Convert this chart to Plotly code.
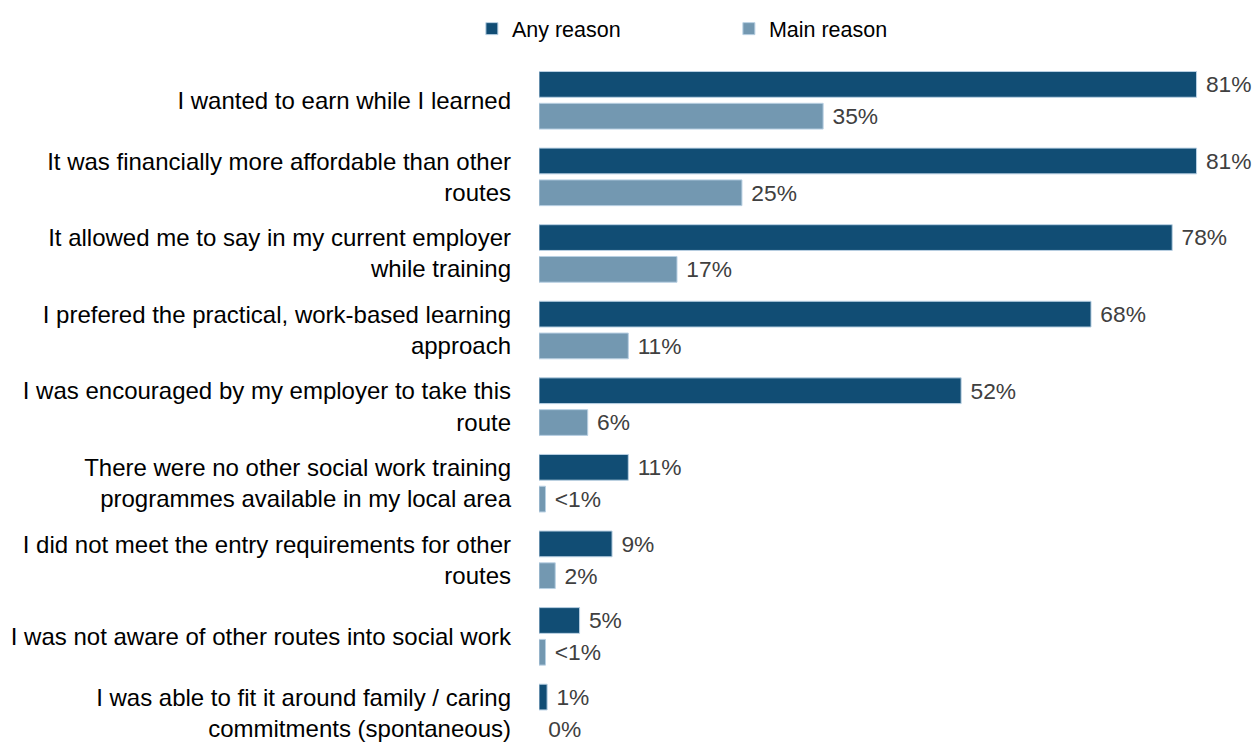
import plotly.graph_objects as go

# Reasons for choosing the apprenticeship route (share of respondents, %)
categories = [
    "I wanted to earn while I learned",
    "It was financially more affordable than other<br>routes",
    "It allowed me to say in my current employer<br>while training",
    "I prefered the practical, work-based learning<br>approach",
    "I was encouraged by my employer to take this<br>route",
    "There were no other social work training<br>programmes available in my local area",
    "I did not meet the entry requirements for other<br>routes",
    "I was not aware of other routes into social work",
    "I was able to fit it around family / caring<br>commitments (spontaneous)",
]
any_reason = [81, 81, 78, 68, 52, 11, 9, 5, 1]
main_reason = [35, 25, 17, 11, 6, 0.8, 2, 0.8, 0]

DARK = "#114d74"
LIGHT = "#7398b1"
OUTLINE = "#b9d0e3"
FONT = "Liberation Sans, Arial, sans-serif"


def pct_label(v):
    if 0 < v < 1:
        return " <1%"
    return f" {v:.0f}%"


fig = go.Figure()
for name, vals, col in [("Any reason", any_reason, DARK), ("Main reason", main_reason, LIGHT)]:
    fig.add_trace(go.Bar(
        name=name,
        y=categories,
        x=vals,
        orientation="h",
        marker=dict(
            color=col,
            # no outline on empty bars
            line=dict(color=OUTLINE, width=[1 if v > 0 else 0 for v in vals]),
        ),
        text=[pct_label(v) for v in vals],
        textposition="outside",
        textfont=dict(family=FONT, size=23, color="#404040"),
        cliponaxis=False,
        hoverinfo="skip",
    ))

fig.update_layout(
    width=1255,
    height=742,
    barmode="group",
    bargap=0.17,
    bargroupgap=0.19,
    plot_bgcolor="white",
    paper_bgcolor="white",
    margin=dict(l=539, r=0, t=62, b=0),
    font=dict(family=FONT, size=24, color="#000000"),
    showlegend=True,
    legend=dict(
        orientation="h",
        xref="container",
        yref="container",
        x=0.376,
        y=0.989,
        xanchor="left",
        yanchor="top",
        entrywidth=212,
        font=dict(family=FONT, size=21.5, color="#000000"),
        itemwidth=30,
        traceorder="normal",
    ),
    xaxis=dict(
        range=[0, 88.2],
        visible=False,
        fixedrange=True,
    ),
    yaxis=dict(
        categoryorder="array",
        categoryarray=categories,
        range=[8.34, -0.5],
        showline=False,
        showgrid=False,
        zeroline=False,
        ticks="",
        ticklabelstandoff=27,
        tickfont=dict(family=FONT, size=24, color="#000000"),
    ),
)

fig.write_html("out.html")
